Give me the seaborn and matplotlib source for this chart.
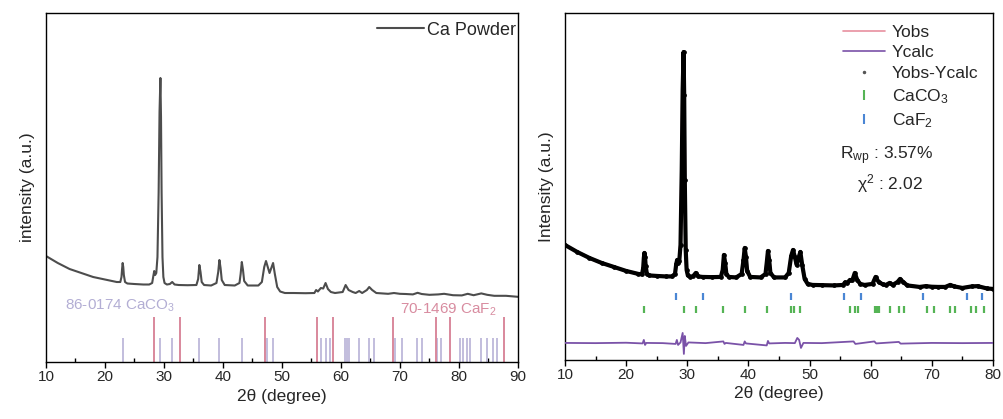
import numpy as np
import pandas as pd
import matplotlib
matplotlib.use("Agg")
import matplotlib.pyplot as plt
from matplotlib.lines import Line2D
from matplotlib.ticker import MultipleLocator
import seaborn as sns

# ---------------- data ----------------
# Left panel: Ca powder pattern
left_x = [10, 12, 14, 16, 18, 20, 22, 22.6, 22.8, 22.9, 23.0, 23.1, 23.2, 23.4, 23.8, 25, 26.5, 27.5,
          28.0, 28.2, 28.35, 28.5, 28.7, 28.9, 29.1, 29.25, 29.4, 29.5, 29.6, 29.75, 29.9, 30.1, 30.5,
          31.0, 31.4, 31.8, 32.5, 34, 35.5, 35.8, 36.0, 36.2, 36.4, 36.8, 38, 38.9, 39.2, 39.4, 39.6,
          39.8, 40.3, 42, 42.8, 43.0, 43.2, 43.4, 43.6, 44.2, 46, 46.6, 47.0, 47.3, 47.6, 47.9, 48.2,
          48.5, 48.8, 49.2, 49.7, 50.5, 52, 54, 55.5, 55.8, 56.1, 56.6, 57.0, 57.4, 57.8, 58.3, 59,
          60.3, 60.8, 61.3, 62, 62.5, 63.1, 63.6, 64.4, 64.8, 65.3, 66, 68, 69, 70, 71, 72.2, 73, 73.7,
          75, 76.5, 77.5, 79, 80.5, 81.5, 82.5, 83.8, 84.8, 86, 88, 90]
left_y = [1060, 990, 930, 890, 850, 825, 800, 800, 850, 930, 990, 950, 870, 800, 785, 780, 775, 775,
          790, 860, 910, 870, 890, 1050, 1700, 2500, 2840, 2450, 1700, 1050, 850, 790, 775,
          780, 800, 775, 770, 768, 770, 830, 970, 900, 800, 770, 765, 790, 900, 1020, 940,
          820, 770, 765, 790, 880, 1000, 920, 810, 765, 765, 800, 950, 1010, 950, 890, 940,
          990, 880, 750, 705, 690, 690, 688, 690, 720, 705, 740, 735, 790, 730, 700, 690,
          700, 770, 720, 700, 690, 710, 690, 720, 750, 720, 690, 682, 690, 682, 680, 676, 692, 680,
          672, 676, 682, 668, 666, 682, 668, 686, 672, 662, 662, 652]

# Reference cards (left panel)
caco3_ref = [23.0, 29.4, 31.4, 36.0, 39.4, 43.2, 47.1, 47.5, 48.5, 56.6, 57.4, 58.1, 60.7, 61.0,
             61.4, 63.1, 64.7, 65.6, 69.2, 70.3, 72.9, 73.7, 76.3, 77.0, 80.2, 80.7, 81.3, 81.9,
             83.7, 84.8, 85.8, 86.4]
caf2_ref = [28.3, 32.8, 47.1, 55.9, 58.6, 68.8, 76.1, 78.5, 87.7]

# Right panel: Rietveld refinement
right_x = [10, 12, 14, 16, 18, 20, 22, 22.6, 22.8, 22.9, 23.0, 23.1, 23.2, 23.4, 23.8, 25, 26.5, 27.5,
           28.0, 28.2, 28.35, 28.5, 28.7, 28.9, 29.1, 29.25, 29.4, 29.5, 29.6, 29.75, 29.9, 30.1, 30.5,
           31.0, 31.4, 31.8, 32.5, 34, 35.5, 35.8, 36.0, 36.2, 36.4, 36.8, 38, 38.9, 39.2, 39.4, 39.6,
           39.8, 40.3, 42, 42.8, 43.0, 43.2, 43.4, 43.6, 44.2, 46, 46.6, 47.0, 47.3, 47.6, 47.9, 48.2,
           48.5, 48.8, 49.2, 49.7, 50.5, 52, 54, 55.5, 55.8, 56.1, 56.6, 57.0, 57.4, 57.8, 58.3, 59,
           60.3, 60.8, 61.3, 62, 62.5, 63.1, 63.6, 64.4, 64.8, 65.3, 66, 68, 69, 70, 71, 72.2, 73, 73.7,
           75, 76.5, 77.5, 79, 80]
y_obs = [1150, 1080, 1020, 970, 930, 890, 860, 855, 920, 1020, 1070, 1030, 940, 860, 845, 840, 835, 835,
         860, 960, 1000, 970, 990, 1150, 1900, 2700, 3080, 2650, 1800, 1100, 900, 845, 830,
         840, 870, 835, 830, 828, 830, 900, 1050, 970, 860, 830, 825, 860, 1000, 1120, 1030,
         890, 830, 825, 860, 970, 1090, 1000, 870, 825, 825, 870, 1040, 1100, 1030, 950, 1020,
         1080, 950, 810, 760, 750, 748, 745, 750, 775, 765, 800, 795, 870, 800, 760, 750,
         760, 830, 780, 755, 750, 770, 750, 780, 810, 780, 745, 730, 738, 732, 730, 730, 750, 735,
         720, 735, 738, 715, 710]
y_calc = y_obs

res_x = [10, 15, 20, 22.7, 22.9, 23.1, 23.3, 26, 28.1, 28.3, 28.5, 28.9, 29.25, 29.45, 29.6, 29.8,
         30.2, 33, 35.9, 36.1, 36.3, 39.2, 39.4, 39.6, 43.0, 43.2, 43.4, 46, 47.6, 48.0, 48.3, 48.6,
         49, 52, 57.2, 57.5, 60.6, 60.9, 64.6, 64.9, 70, 75, 80]
res_y = [170, 168, 172, 165, 200, 150, 170, 168, 160, 200, 150, 175, 270, 60, 240, 140,
         175, 168, 185, 160, 170, 150, 185, 165, 145, 190, 165, 170, 168, 220, 200, 120,
         170, 168, 185, 160, 185, 165, 180, 163, 170, 168, 170]

caco3_hkl = [22.9, 29.4, 31.4, 35.9, 39.4, 43.1, 47.0, 47.4, 48.5, 56.7, 57.4, 58.0, 60.7, 61.0,
             61.3, 63.1, 64.7, 65.5, 69.2, 70.3, 73.0, 73.8, 76.4, 77.3, 78.6]
caf2_hkl = [28.2, 32.6, 47.0, 55.7, 58.4, 68.6, 75.8, 78.2]

# ---------------- style ----------------
sns.set_theme(style="white")
plt.rcParams["font.family"] = ["Liberation Sans", "DejaVu Sans"]
plt.rcParams["mathtext.fontset"] = "custom"
plt.rcParams["mathtext.rm"] = "Liberation Sans"
plt.rcParams["mathtext.it"] = "Liberation Sans:italic"
plt.rcParams["mathtext.bf"] = "Liberation Sans:bold"

W, H = 1004, 419
fig = plt.figure(figsize=(W / 100, H / 100), dpi=100)
axL = fig.add_axes([0.0458, 0.136, 0.470, 0.833])
axR = fig.add_axes([0.5627, 0.141, 0.4263, 0.828])

lav = "#bdb8da"
pink = "#d9889c"

# ---- left ----
dfL = pd.DataFrame({"x": left_x, "y": left_y})
sns.lineplot(data=dfL, x="x", y="y", ax=axL, color="#4d4d4d", lw=1.5, label="Ca Powder")
axL.vlines(caco3_ref, 0, 240, color=lav, lw=1.3)
axL.vlines(caf2_ref, 0, 450, color=pink, lw=1.4)
fig.text(65 / W, 1 - 306 / H, "86-0174 CaCO$_3$", color="#b3aed4", fontsize=11,
         va="center", ha="left")
fig.text(400 / W, 1 - 310 / H, "70-1469 CaF$_2$", color="#d88ca0", fontsize=11,
         va="center", ha="left")
axL.set_xlim(10, 90)
axL.set_ylim(0, 3490)
axL.set_yticks([])
axL.xaxis.set_major_locator(MultipleLocator(10))
axL.xaxis.set_minor_locator(MultipleLocator(5))
axL.set_xlabel("2θ (degree)", fontsize=12.5, labelpad=3)
axL.set_ylabel("intensity (a.u.)", fontsize=12.5, labelpad=8)
axL.legend(loc="upper left", bbox_to_anchor=(0.701, 0.975), frameon=False, fontsize=13,
           handlelength=2.6, handletextpad=0.2, borderpad=0, borderaxespad=0)

# ---- right ----
dfO = pd.DataFrame({"x": right_x, "y": y_obs})
dfC = pd.DataFrame({"x": right_x, "y": y_calc})
dfD = pd.DataFrame({"x": res_x, "y": res_y})
sns.lineplot(data=dfC, x="x", y="y", ax=axR, color="#e8909f", lw=2.2, zorder=2)
sns.lineplot(data=dfO, x="x", y="y", ax=axR, color="black", lw=3.0, marker="o", ms=2.6,
             mec="black", zorder=3)
sns.lineplot(data=dfD, x="x", y="y", ax=axR, color="#7a52a8", lw=1.3, zorder=3)
axR.vlines(caf2_hkl, 595, 670, color="#4a86d4", lw=1.6)
axR.vlines(caco3_hkl, 470, 535, color="#55b455", lw=1.6)
axR.set_xlim(10, 80)
axR.set_ylim(0, 3470)
axR.set_yticks([])
axR.xaxis.set_major_locator(MultipleLocator(10))
axR.xaxis.set_minor_locator(MultipleLocator(5))
axR.set_xlabel("2θ (degree)", fontsize=12.5, labelpad=3)
axR.set_ylabel("Intensity (a.u.)", fontsize=12.5, labelpad=8)

handles = [
    Line2D([], [], color="#e8909f", lw=1.2),
    Line2D([], [], color="#7a52a8", lw=1.2),
    Line2D([], [], color="#555555", ls="none", marker=".", ms=3),
    Line2D([], [], color="#55b455", ls="none", marker="|", ms=7, mew=1.5),
    Line2D([], [], color="#4a86d4", ls="none", marker="|", ms=7, mew=1.5),
]
labels = ["Yobs", "Ycalc", "Yobs-Ycalc", "CaCO$_3$", "CaF$_2$"]
axR.legend(handles, labels, loc="upper left", bbox_to_anchor=(0.650, 0.967), frameon=False,
           fontsize=12.5, handlelength=2.4, handletextpad=0.4, borderpad=0, borderaxespad=0,
           labelspacing=0.33)
axR.text(0.752, 0.588, "R$_\\mathrm{wp}$ : 3.57%", transform=axR.transAxes, fontsize=12.5,
         ha="center", va="center")
axR.text(0.759, 0.508, "χ$^\\mathrm{2}$ : 2.02", transform=axR.transAxes, fontsize=12.5,
         ha="center", va="center")

for ax in (axL, axR):
    for s in ax.spines.values():
        s.set_visible(True)
        s.set_color("black")
        s.set_linewidth(1.0)
    ax.tick_params(axis="x", which="major", direction="out", length=4, width=1,
                   labelsize=11, color="black", bottom=True, pad=2)
    ax.tick_params(axis="x", which="minor", direction="in", length=3, width=1,
                   color="black", bottom=True)
    ax.grid(False)

fig.savefig("out.png", dpi=100)
